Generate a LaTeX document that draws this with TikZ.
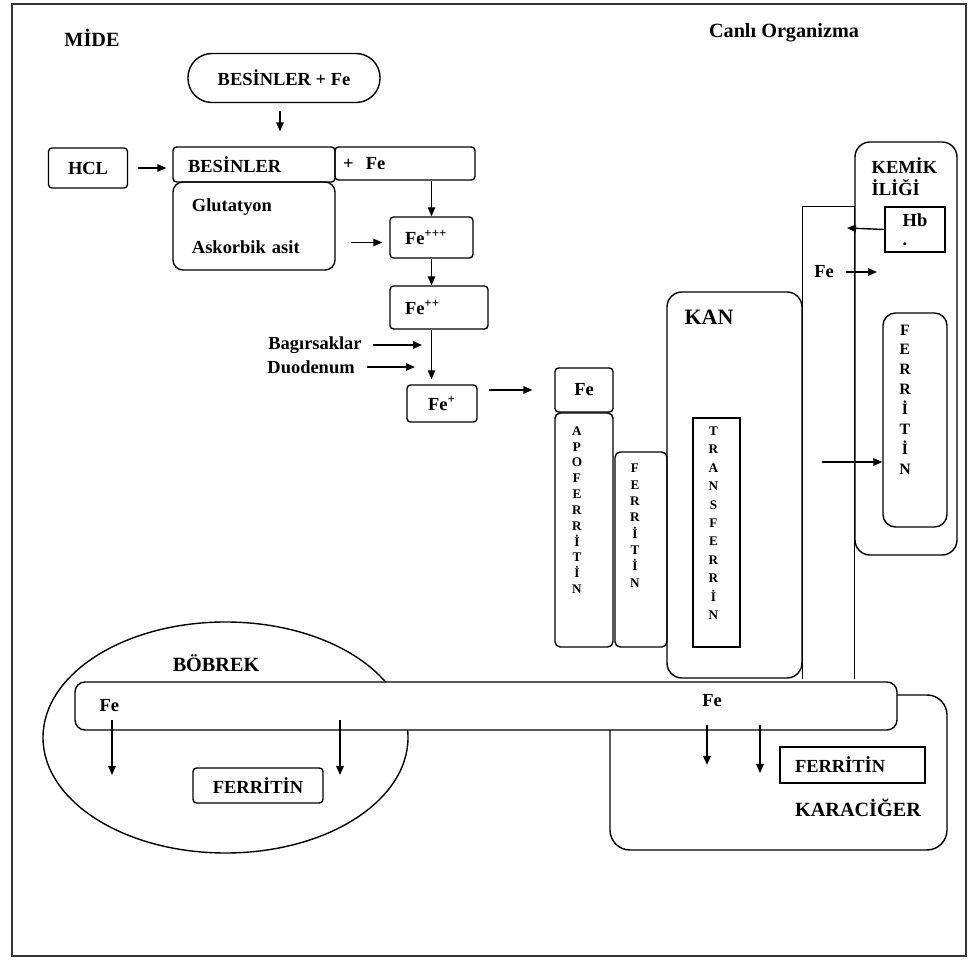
\documentclass[tikz,border=0pt]{standalone}
\usepackage{fontspec}
\setmainfont{Liberation Serif}
\usepackage{tikz}
\usetikzlibrary{shapes.geometric, arrows.meta, positioning}
\tikzset{
  box/.style      = {rectangle, rounded corners=2pt, draw=black, line width=0.8pt,
                     inner sep=0pt, font=\fontsize{10.5}{12.6}\selectfont\bfseries},
  sharpbox/.style = {rectangle, draw=black, line width=0.8pt,
                     inner sep=0pt, font=\fontsize{10.5}{12.6}\selectfont\bfseries},
  pill/.style     = {rectangle, rounded corners=4.8mm, draw=black, line width=0.8pt,
                     minimum width=38.4mm, minimum height=9.8mm, inner sep=0pt,
                     font=\fontsize{10.5}{12.6}\selectfont\bfseries},
  region/.style   = {rectangle, rounded corners=3mm, draw=black, line width=0.8pt, inner sep=0pt},
  title/.style    = {inner sep=0pt, font=\fontsize{11.5}{13.8}\selectfont\bfseries},
  lbl/.style      = {inner sep=0pt, font=\fontsize{10.5}{12.6}\selectfont\bfseries},
  vword/.style    = {align=center, inner sep=0pt, font=\fontsize{7.5}{9}\selectfont\bfseries},
  arrow/.style    = {-{Triangle[length=1.8mm, width=1.5mm]}, line width=0.8pt, black},
  line/.style     = {line width=0.8pt, black},
  frame/.style    = {line width=0.6pt, black!80},
}

\begin{document}
\begin{tikzpicture}[x=0.2mm, y=-0.2mm]
  \useasboundingbox (0,0) rectangle (969,960);
  \draw[frame] (12,4) rectangle (966,956);

  % mide
  \node[title] (mide)  at (92,38)  {MİDE};
  \node[title] (canli) at (784,33) {Canlı Organizma};
  \node[pill] (besinfe) at (284,78) {BESİNLER + Fe};
  \node[box, minimum width=15.8mm, minimum height=8mm] (hcl) at (88,168) {HCL};
  \node[box, minimum height=7mm, inner xsep=3mm, text width=26.4mm, align=left] (besin) at (254,164.5) {BESİNLER};
  \node[box, minimum height=6.6mm, inner xsep=1.6mm, text width=24.8mm, align=left] (plusfe) at (405,163.5) {+~~Fe};
  \node[box, rounded corners=2mm, minimum height=17.6mm, inner xsep=3.8mm, text width=24.8mm, align=left] (glut) at (254,226) {Glutatyon\\[11pt]Askorbik asit};
  \node[box, minimum height=8.2mm, inner xsep=3mm, text width=10.6mm, align=left] (fe3) at (431.5,237.5) {Fe\textsuperscript{+++}};
  \node[box, minimum height=8.6mm, inner xsep=3mm, text width=13.6mm, align=left] (fe2) at (439,307.5) {Fe\textsuperscript{++}};
  \node[box, minimum width=14mm, minimum height=7.4mm] (fe1) at (442,403.5) {Fe\textsuperscript{+}};
  \node[lbl, anchor=east] (bag) at (362,345) {Bagırsaklar};
  \node[lbl, anchor=east] (duo) at (355,367) {Duodenum};

  \draw[arrow, shorten <=1.6mm, shorten >=3mm] ([xshift=-0.8mm]besinfe.south) -- ([xshift=-0.8mm]besinfe.south |- besin.north);
  \draw[arrow, shorten <=2mm, shorten >=1.2mm] (hcl.east) -- (hcl.east -| besin.west);
  \draw[arrow] (fe3.north |- plusfe.south) -- (fe3.north);
  \draw[arrow, shorten <=3mm, shorten >=1.4mm] ([yshift=-1mm]glut.east |- fe3.west) -- ([yshift=-1mm]fe3.west);
  \draw[arrow] (fe3.south) -- (fe3.south |- fe2.north);
  \draw[arrow, shorten >=1mm] (fe3.south |- fe2.south) -- (fe3.south |- fe1.north);
  \draw[arrow, shorten <=2.2mm, shorten >=1.9mm] (bag.east) -- (bag.east -| fe3.south);
  \draw[arrow, shorten <=2.4mm, shorten >=3.3mm] (duo.east) -- (duo.east -| fe3.south);

  % kan ve apoferritin
  \node[box, minimum width=11.6mm, minimum height=8.8mm] (apofe) at (584,390) {Fe};
  \node[box, rounded corners=3pt, minimum width=11.6mm, minimum height=46.8mm] (apo) at (584,530) {};
  \node[box, rounded corners=3pt, minimum width=10.4mm, minimum height=39mm] (midferr) at (641,549.5) {};
  \node[region, minimum width=27mm, minimum height=77.2mm] (kan) at (734.5,485) {};
  \node[sharpbox, minimum width=9.4mm, minimum height=45.8mm] (transf) at (716.5,532.5) {};
  \node[vword, below=2.8mm of apo.north, xshift=-1.4mm] (apotxt) {A\\P\\O\\F\\E\\R\\R\\İ\\T\\İ\\N};
  \node[vword, font=\fontsize{7.5}{9.3}\selectfont\bfseries, below=2.5mm of midferr.north, xshift=-1.2mm] (midtxt) {F\\E\\R\\R\\İ\\T\\İ\\N};
  \node[vword, font=\fontsize{7.5}{10.5}\selectfont\bfseries, below=1.8mm of transf.north, xshift=-0.6mm] (transtxt) {T\\R\\A\\N\\S\\F\\E\\R\\R\\İ\\N};
  \node[title, font=\fontsize{12.5}{15}\selectfont\bfseries, below right=3.6mm and 3.6mm of kan.north west] (kantxt) {KAN};
  \draw[arrow, shorten <=2.2mm, shorten >=4.4mm] (fe1.east |- apofe.west) -- (apofe.west);

  % kemik iligi
  \node[region, minimum width=20.4mm, minimum height=82.6mm] (kemik) at (906,348.5) {};
  \node[lbl, align=left, below right=3.2mm and 3.4mm of kemik.north west] (kemiktxt) {KEMİK\\İLİĞİ};
  \node[sharpbox, minimum width=12mm, minimum height=9mm, align=left] (hb) at (915,229.5) {Hb\\[-2pt].};
  \node[box, rounded corners=2.5mm, minimum width=12.8mm, minimum height=42.8mm] (kemferr) at (915,420) {};
  \node[vword, font=\fontsize{9}{11.3}\selectfont\bfseries, below=2.4mm of kemferr.north, xshift=-2mm] (kemtxt) {F\\E\\R\\R\\İ\\T\\İ\\N};
  \draw[line] (kan.south east) -- (kan.east |- hb.north) -- (kemik.west |- hb.north) -- (kemik.west |- kan.south);
  \node[lbl] (fek) at (824,272) {Fe};
  \coordinate (hbend)  at (847,228);
  \coordinate (fekend) at (877,272);
  \coordinate (kanout) at (822,462);
  \draw[arrow] (hb.west) -- (hbend);
  \draw[arrow, shorten <=2.4mm] (fek.east) -- (fekend);
  \draw[arrow] (kanout) -- (kanout -| kemferr.west);

  % bobrek ve karaciger
  \node[ellipse, draw=black, line width=0.8pt, minimum width=73mm, minimum height=46.2mm, inner sep=0pt] (bobrek) at (225.5,737.5) {};
  \node[region, rounded corners=4mm, minimum width=67.4mm, minimum height=31mm] (karac) at (778.5,772.5) {};
  \node[box, rounded corners=2mm, fill=white, minimum width=164.4mm, minimum height=9.6mm] (bar) at (486,706) {};
  \node[title] (bobtxt) at (216,663) {BÖBREK};
  \node[lbl, right=5mm of bar.west] (felt) {Fe};
  \node[lbl] (fert) at (712,701) {Fe};
  \node[box, minimum width=26mm, minimum height=7mm] (ferrk) at (258,785.5) {FERRİTİN};
  \node[sharpbox, minimum height=7.2mm, inner xsep=3mm, text width=23mm, align=left] (ferrl) at (852.5,765) {FERRİTİN};
  \node[title] (karactxt) at (858,808) {KARACİĞER};

  \coordinate (kidA) at (112,720);
  \coordinate (kidB) at (112,775);
  \coordinate (kidC) at (340,720);
  \coordinate (kidD) at (340,775);
  \coordinate (livA) at (707,725);
  \coordinate (livB) at (707,765);
  \coordinate (livC) at (760,725);
  \coordinate (livD) at (760,773);
  \draw[arrow] (kidA) -- (kidB);
  \draw[arrow] (kidC) -- (kidD);
  \draw[arrow, line width=1.1pt] (livA) -- (livB);
  \draw[arrow] (livC) -- (livD);
\end{tikzpicture}
\end{document}
